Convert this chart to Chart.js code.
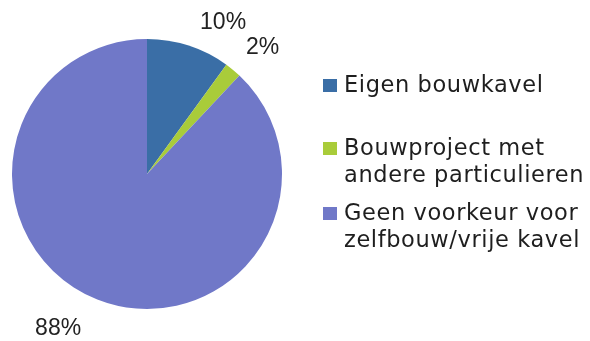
<!DOCTYPE html>
<html><head><meta charset="utf-8">
<script src="https://cdn.jsdelivr.net/npm/chart.js@4"></script>
<style>html,body{margin:0;padding:0;background:#fff;}#wrap{width:590px;height:341px;position:relative;}</style>
</head><body><div id="wrap"><canvas id="c" width="590" height="341"></canvas></div>
<script>
const categories = ["Eigen bouwkavel", "Bouwproject met andere particulieren", "Geen voorkeur voor zelfbouw/vrije kavel"];
const legendLines = [["Eigen bouwkavel"], ["Bouwproject met", "andere particulieren"], ["Geen voorkeur voor", "zelfbouw/vrije kavel"]];
const values = [10, 2, 88];
const valueLabels = ["10%", "2%", "88%"];
const colors = ["#3a6ea6", "#a9cc3a", "#7078c8"];

const LEGEND_FONT = "22.5px 'DejaVu Sans', sans-serif";
const PCT_FONT = "23px 'Liberation Sans', Arial, sans-serif";
const labelPlugin = {
  id: 'outLabels',
  afterDatasetsDraw(chart, args, opts) {
    const ctx = chart.ctx;
    const meta = chart.getDatasetMeta(0);
    ctx.save();
    ctx.font = PCT_FONT;
    ctx.fillStyle = '#222';
    meta.data.forEach((arc, i) => {
      const mid = (arc.startAngle + arc.endAngle) / 2;
      const d = arc.outerRadius + opts.gap;
      const nudge = opts.nudges[i];
      const x = arc.x + Math.cos(mid) * d + nudge[0];
      const y = arc.y + Math.sin(mid) * d + nudge[1];
      ctx.textAlign = Math.cos(mid) >= 0 ? 'left' : 'right';
      ctx.textBaseline = Math.sin(mid) <= 0 ? 'alphabetic' : 'top';
      ctx.fillText(valueLabels[i], x, y);
    });
    ctx.restore();
  }
};
const legendPlugin = {
  id: 'sideLegend',
  afterDraw(chart, args, opts) {
    const ctx = chart.ctx;
    ctx.save();
    ctx.font = LEGEND_FONT;
    ctx.letterSpacing = opts.spacing + 'px';
    ctx.textAlign = 'left';
    ctx.textBaseline = 'alphabetic';
    legendLines.forEach((lines, i) => {
      const base = opts.baselines[i];
      ctx.fillStyle = colors[i];
      ctx.fillRect(opts.x, base - 13, 14, 13);
      ctx.fillStyle = '#1e1e1e';
      lines.forEach((t, j) => ctx.fillText(t, opts.x + 21, base + j * opts.lineH));
    });
    ctx.restore();
  }
};

new Chart(document.getElementById('c'), {
  type: 'pie',
  data: { labels: categories, datasets: [{ data: values, backgroundColor: colors, borderWidth: 0 }] },
  options: {
    responsive: false, animation: false,
    layout: { padding: { left: 12, top: 39, bottom: 32, right: 308 } },
    plugins: {
      legend: { display: false }, tooltip: { enabled: false },
      sideLegend: { x: 323, baselines: [92, 155, 220], lineH: 27, spacing: 0.6 },
      outLabels: { gap: 14, nudges: [[7, -3], [4, -5], [-11, 5]] }
    }
  },
  plugins: [labelPlugin, legendPlugin]
});
</script></body></html>
